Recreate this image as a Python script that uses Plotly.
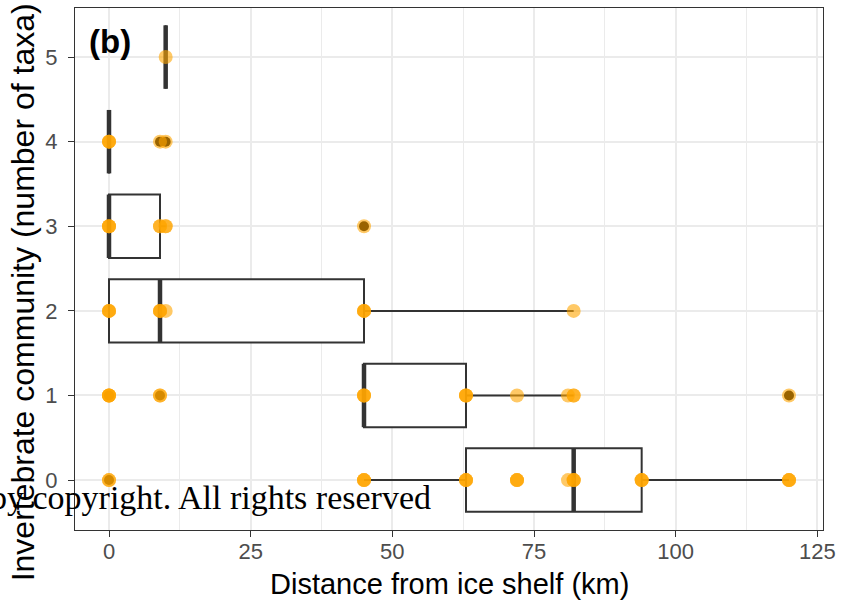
import plotly.graph_objects as go

# ---- data ----
levels = [0, 1, 2, 3, 4, 5]
q1 = [63, 45, 0, 0, 0, 10]
median = [82, 45, 9, 0, 0, 10]
q3 = [94, 63, 45, 9, 0, 10]
lower_fence = [45, 45, 0, 0, 0, 10]
upper_fence = [120, 82, 82, 10, 0, 10]

outlier_x = [0, 0, 9, 120, 45, 9, 10]
outlier_y = [0, 1, 1, 1, 3, 4, 4]

point_x = ([0, 0, 45, 45, 45, 63, 63, 63, 72, 72, 72, 81, 82, 82, 82, 94, 94, 94, 120, 120, 120]
           + [0, 0, 0, 0, 9, 9, 45, 45, 45, 63, 63, 63, 72, 81, 82, 82, 120]
           + [0, 0, 0, 9, 9, 9, 10, 45, 45, 45, 82]
           + [0, 0, 0, 9, 9, 10, 10, 45]
           + [0, 0, 0, 9, 10]
           + [10])
point_y = ([0] * 21 + [1] * 17 + [2] * 11 + [3] * 8 + [4] * 5 + [5] * 1)

x_ticks = [0, 25, 50, 75, 100, 125]
y_ticks = [0, 1, 2, 3, 4, 5]

DARK = "#333333"
ORANGE = "#FFA500"
GRID = "#EBEBEB"
SANS = "Liberation Sans, Arial"

fig = go.Figure()

fig.add_trace(go.Box(
    orientation="h", y=levels,
    q1=q1, median=median, q3=q3,
    lowerfence=lower_fence, upperfence=upper_fence,
    width=0.75, whiskerwidth=0, boxpoints=False,
    fillcolor="white", line=dict(color=DARK, width=2),
    showlegend=False, hoverinfo="skip",
))

# thick median segments
fig.add_trace(go.Scatter(
    x=median, y=levels, mode="markers",
    marker=dict(size=1, color=DARK, opacity=0),
    error_y=dict(type="constant", value=0.375, thickness=4.5, width=0, color=DARK),
    showlegend=False, hoverinfo="skip",
))

# outliers
fig.add_trace(go.Scatter(
    x=outlier_x, y=outlier_y, mode="markers",
    marker=dict(size=10, color="black"),
    showlegend=False, hoverinfo="skip",
))

# observations
fig.add_trace(go.Scatter(
    x=point_x, y=point_y, mode="markers",
    marker=dict(size=14, color=ORANGE, opacity=0.6, line=dict(width=0)),
    showlegend=False, hoverinfo="skip",
))

axis_common = dict(
    showline=True, linecolor=DARK, linewidth=1.3, mirror=True,
    ticks="outside", ticklen=6, tickcolor=DARK, tickwidth=1.3,
    tickfont=dict(family=SANS, size=22, color="#4D4D4D"),
    showgrid=True, gridcolor=GRID, gridwidth=1.6, zeroline=False,
    automargin=False,
)

fig.update_layout(
    width=841, height=601,
    margin=dict(l=75, r=18, t=8, b=71),
    paper_bgcolor="white", plot_bgcolor="white",
    font=dict(family=SANS, color="black"),
    xaxis=dict(
        range=[-6, 126], tickvals=x_ticks, ticktext=[str(v) for v in x_ticks],
        minor=dict(dtick=12.5, tick0=0, showgrid=True, gridcolor=GRID, gridwidth=1.0, ticks=""),
        ticklabelstandoff=-5,
        **axis_common,
    ),
    yaxis=dict(
        range=[-0.59, 5.58], tickvals=y_ticks, ticktext=[str(v) for v in y_ticks],
        ticklabelstandoff=6,
        **axis_common,
    ),
    annotations=[
        dict(text="<b>(b)</b>", xref="paper", yref="paper", x=0.047, y=0.935,
             showarrow=False, xanchor="center", yanchor="middle",
             font=dict(family=SANS, size=33, color="black")),
        dict(text="Distance from ice shelf (km)", xref="paper", yref="paper",
             x=0.5, y=-0.103, showarrow=False, xanchor="center", yanchor="middle",
             font=dict(family=SANS, size=29, color="black")),
        dict(text="Invertebrate community (number of taxa)", xref="paper", yref="paper",
             x=-0.069, y=0.456, textangle=-90, showarrow=False,
             xanchor="center", yanchor="middle",
             font=dict(family=SANS, size=32, color="black")),
        dict(text="by copyright. All rights reserved", xref="paper", yref="paper",
             x=0.478, y=0.063, showarrow=False, xanchor="right", yanchor="middle",
             font=dict(family="Liberation Serif, serif", size=34, color="black")),
    ],
)

fig.write_html("out.html", config={"displayModeBar": False},
               post_script="document.body.style.margin='0';")
